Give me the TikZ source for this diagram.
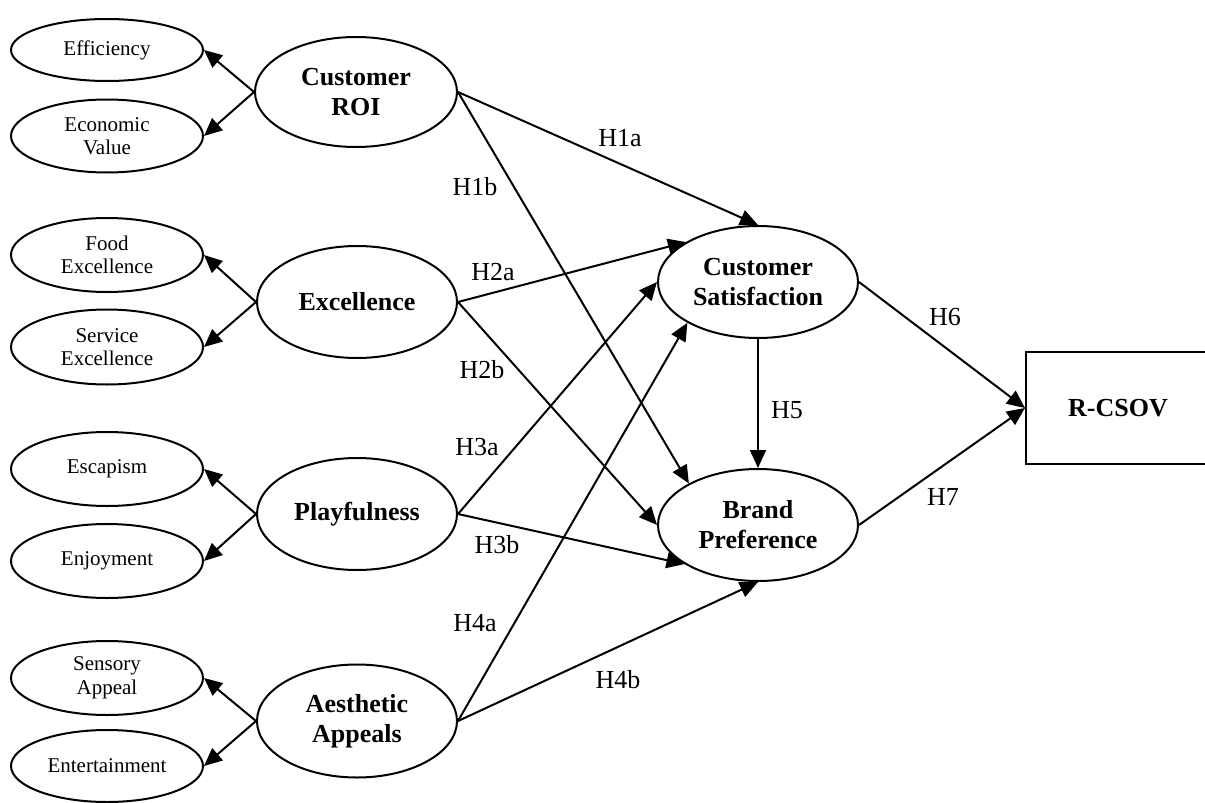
\documentclass[tikz,border=0pt]{standalone}
\usepackage{fontspec}
\setmainfont{Liberation Serif}
\usetikzlibrary{shapes.geometric,arrows.meta}

\begin{document}
\begin{tikzpicture}[x=1pt,y=-1pt,
  line width=2pt,
  tip/.style={-{Triangle[length=18pt,width=16pt]}},
  item/.style={draw, ellipse, minimum width=192pt, inner sep=0pt, align=center,
    font=\fontsize{21}{23.5}\selectfont},
  construct/.style={draw, ellipse, minimum width=200pt, minimum height=112pt,
    inner sep=0pt, align=center, font=\fontsize{26}{30}\selectfont\bfseries},
  hyp/.style={font=\fontsize{26}{30}\selectfont, inner sep=0pt}]

\useasboundingbox (0,0) rectangle (1205,803);

% measurement items
\node[item, minimum height=62pt] (eff)  at (107,50)  {Efficiency};
\node[item, minimum height=73pt] (eco)  at (107,136) {Economic\\Value};
\node[item, minimum height=74pt] (food) at (107,255) {Food\\Excellence};
\node[item, minimum height=75pt] (serv) at (107,347) {Service\\Excellence};
\node[item, minimum height=74pt] (esc)  at (107,469) {Escapism};
\node[item, minimum height=74pt] (enj)  at (107,561) {Enjoyment};
\node[item, minimum height=74pt] (sens) at (107,678) {Sensory\\Appeal};
\node[item, minimum height=72pt] (ent)  at (107,766) {Entertainment};

% constructs
\node[construct, minimum width=202pt, minimum height=110pt] (roi) at (356,92) {Customer\\ROI};
\node[construct] (exc)  at (357,302) {Excellence};
\node[construct] (play) at (357,514) {Playfulness};
\node[construct, minimum height=113pt] (aes) at (357,721) {Aesthetic\\Appeals};
\node[construct] (cs) at (758,282) {Customer\\Satisfaction};
\node[construct] (bp) at (758,525) {Brand\\Preference};
\node[draw, rectangle, minimum width=184pt, minimum height=112pt, inner sep=0pt,
  font=\fontsize{26}{30}\selectfont\bfseries] (out) at (1118,408) {R-CSOV};

% construct -> item arrows
\draw[tip] (roi.west)  -- (eff.east);
\draw[tip] (roi.west)  -- (eco.east);
\draw[tip] (exc.west)  -- (food.east);
\draw[tip] (exc.west)  -- (serv.east);
\draw[tip] (play.west) -- (esc.east);
\draw[tip] (play.west) -- (enj.east);
\draw[tip] (aes.west)  -- (sens.east);
\draw[tip] (aes.west)  -- (ent.east);

% hypothesised paths
\draw[tip] (roi.east)  -- (cs.north);
\draw[tip] (roi.east)  -- (bp.149);
\draw[tip] (exc.east)  -- (cs.151);
\draw[tip] (exc.east)  -- (bp.west);
\draw[tip] (play.east) -- (cs.west);
\draw[tip] (play.east) -- (bp.208);
\draw[tip] (aes.east)  -- (cs.210);
\draw[tip] (aes.east)  -- (bp.south);
\draw[tip] (cs.south)  -- (bp.north);
\draw[tip] (cs.east)   -- (out.west);
\draw[tip] (bp.east)   -- (out.west);

% path labels
\node[hyp] (h1a) at (620,138) {H1a};
\node[hyp] (h1b) at (475,187) {H1b};
\node[hyp] (h2a) at (493,272) {H2a};
\node[hyp] (h2b) at (482,370) {H2b};
\node[hyp] (h3a) at (477,447) {H3a};
\node[hyp] (h3b) at (497,545) {H3b};
\node[hyp] (h4a) at (475,623) {H4a};
\node[hyp] (h4b) at (618,680) {H4b};
\node[hyp] (h5)  at (787,410) {H5};
\node[hyp] (h6)  at (945,317) {H6};
\node[hyp] (h7)  at (943,497) {H7};
\end{tikzpicture}
\end{document}
